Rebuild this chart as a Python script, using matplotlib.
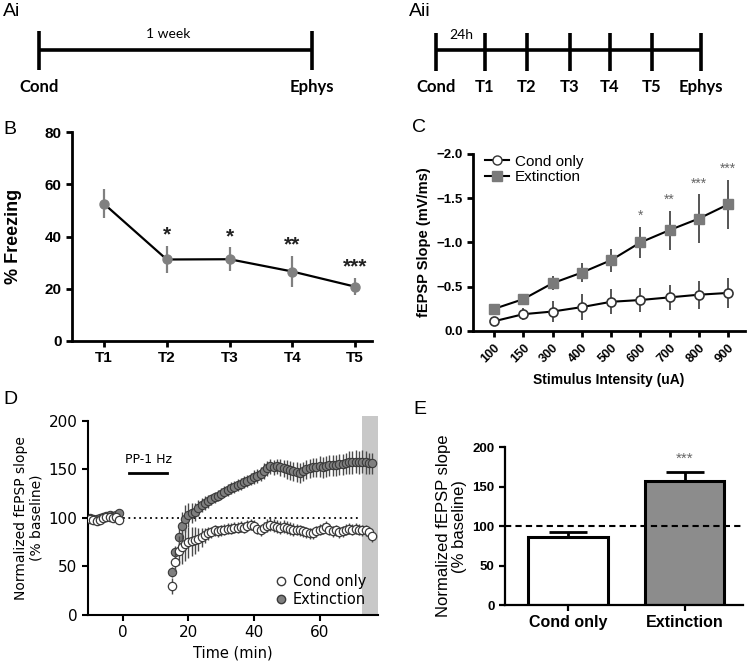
import numpy as np
import matplotlib.pyplot as plt
from matplotlib.lines import Line2D

plt.rcParams['font.family'] = ['Liberation Sans', 'DejaVu Sans']

# ---------------- data ----------------
# A: protocol timelines
ai_labels = ['Cond', 'Ephys']
ai_span = '1 week'
aii_labels = ['Cond', 'T1', 'T2', 'T3', 'T4', 'T5', 'Ephys']
aii_span = '24h'

# B: freezing across extinction sessions
b_sessions = ['T1', 'T2', 'T3', 'T4', 'T5']
b_freeze = [52.5, 31.2, 31.3, 26.6, 20.8]
b_sem = [5.5, 5.3, 4.6, 6.0, 3.3]
b_stars = ['', '*', '*', '**', '***']

# C: input-output curves
c_intensity = ['100', '150', '300', '400', '500', '600', '700', '800', '900']
c_cond = [-0.11, -0.19, -0.22, -0.27, -0.33, -0.35, -0.38, -0.41, -0.43]
c_cond_sem = [0.05, 0.07, 0.12, 0.15, 0.14, 0.14, 0.14, 0.16, 0.17]
c_ext = [-0.25, -0.36, -0.54, -0.66, -0.80, -1.00, -1.14, -1.27, -1.43]
c_ext_sem = [0.02, 0.03, 0.08, 0.11, 0.13, 0.18, 0.22, 0.28, 0.28]
c_stars = ['', '', '', '', '', '*', '**', '***', '***']

# D: time course (baseline -10..-1 min, then 15..76 min)
d_time = list(range(-10, 0)) + list(range(15, 77))
d_cond = [99, 98, 97, 98, 100, 101, 101, 100, 101, 98,
          30, 55, 66, 70, 73, 75, 76, 77, 78, 80,
          82, 84, 85, 87, 86, 87, 88, 89, 89, 90,
          90, 91, 90, 92, 93, 92, 89, 87, 90, 92,
          93, 92, 91, 90, 91, 90, 89, 88, 88, 87,
          86, 85, 84, 84, 86, 88, 89, 91, 88, 86,
          87, 85, 86, 88, 89, 88, 89, 88, 87, 87,
          85, 81]
d_cond_sem = [2, 2, 2, 2, 2, 2, 2, 2, 2, 2,
              8, 10, 15, 17, 17, 16, 15, 14, 12, 10,
              8, 7, 6, 6, 6, 6, 6, 6, 6, 6,
              6, 6, 6, 6, 6, 6, 6, 6, 6, 7,
              7, 7, 7, 7, 7, 7, 7, 7, 6, 6,
              6, 6, 6, 6, 6, 6, 6, 6, 6, 6,
              6, 6, 6, 6, 6, 6, 6, 6, 6, 6,
              6, 6]
d_ext = [100, 99, 99, 100, 101, 102, 103, 102, 103, 105,
         44, 65, 80, 92, 99, 103, 105, 106, 110, 113,
         115, 117, 119, 121, 123, 125, 127, 129, 131, 132,
         134, 135, 137, 138, 140, 142, 143, 145, 148, 151,
         153, 152, 153, 152, 151, 150, 149, 148, 147, 146,
         148, 150, 151, 152, 152, 153, 152, 153, 154, 154,
         154, 155, 155, 156, 157, 157, 158, 157, 158, 157,
         156, 156]
d_ext_sem = [2, 2, 2, 2, 2, 2, 2, 2, 2, 2,
             5, 6, 10, 14, 14, 12, 10, 9, 8, 7,
             7, 7, 6, 6, 6, 6, 6, 6, 6, 6,
             6, 6, 6, 6, 6, 7, 7, 7, 8, 8,
             8, 8, 8, 9, 9, 10, 10, 10, 10, 10,
             10, 10, 10, 10, 10, 11, 11, 11, 11, 11,
             11, 11, 11, 11, 12, 12, 12, 12, 12, 12,
             11, 11]
d_stim = (2, 13.4)
d_window = (73, 77.8)

# E: potentiation in the last minutes
e_groups = ['Cond only', 'Extinction']
e_vals = [86, 157.5]
e_sem = [6.3, 11.5]

GRAY = '#808080'
W, H = 747, 670
fig = plt.figure(figsize=(W / 100, H / 100), dpi=100)


def px_axes(l, t, r, b):
    return fig.add_axes([l / W, 1 - b / H, (r - l) / W, (b - t) / H])


def style(ax, lw):
    for s in ['top', 'right']:
        ax.spines[s].set_visible(False)
    for s in ['left', 'bottom']:
        ax.spines[s].set_linewidth(lw)
    ax.tick_params(direction='out', length=4, width=lw)


# overlay in pixel coords: timelines + panel letters
ov = fig.add_axes([0, 0, 1, 1])
ov.set_xlim(0, W)
ov.set_ylim(H, 0)
ov.axis('off')

ai_x = [39, 312]
ov.plot(ai_x, [50, 50], color='black', lw=2.6, solid_capstyle='butt')
for x, lab in zip(ai_x, ai_labels):
    ov.plot([x, x], [31, 70], color='black', lw=2.6, solid_capstyle='butt')
    ov.text(x, 87, lab, ha='center', va='center', fontsize=12,
            fontweight='bold', family='Lato')
ov.text(168, 34, ai_span, ha='center', va='center', fontsize=10, family='Lato')

aii_x = [436, 485, 527, 570, 610, 652, 701]
ov.plot([aii_x[0], aii_x[-1]], [50, 50], color='black', lw=2.6,
        solid_capstyle='butt')
for x, lab in zip(aii_x, aii_labels):
    ov.plot([x, x], [33, 71], color='black', lw=2.6, solid_capstyle='butt')
    ov.text(x, 87, lab, ha='center', va='center', fontsize=12,
            fontweight='bold', family='Lato')
ov.text(461, 35, aii_span, ha='center', va='center', fontsize=10, family='Lato')

for lab, x, y in [('Ai', 3, 3), ('Aii', 409, 3), ('B', 3, 121),
                  ('C', 412, 119), ('D', 3, 391), ('E', 413, 401)]:
    ov.text(x, y, lab, ha='left', va='top', fontsize=14)

# ---------------- B ----------------
axb = px_axes(72, 132, 372, 341)
xb = np.arange(len(b_sessions))
axb.errorbar(xb, b_freeze, yerr=b_sem, color='black', lw=1.6, marker='o',
             ms=6.5, mfc=GRAY, mec=GRAY, ecolor=GRAY, elinewidth=1.6, capsize=0)
for x, y, e, s in zip(xb, b_freeze, b_sem, b_stars):
    if s:
        axb.text(x, y + e + 0.5, s, ha='center', va='bottom', fontsize=15,
                 fontweight='bold', color='#222222')
axb.set_xlim(-0.51, 4.27)
axb.set_ylim(0, 80)
axb.set_yticks([0, 20, 40, 60, 80])
axb.set_xticks(xb)
axb.set_xticklabels(b_sessions)
style(axb, 2)
for lab in axb.get_xticklabels() + axb.get_yticklabels():
    lab.set_fontweight('bold')
    lab.set_fontsize(11)
axb.set_ylabel('% Freezing', fontsize=13, fontweight='bold', labelpad=16)

# ---------------- C ----------------
axc = px_axes(473, 154, 745, 331)
xc = np.arange(len(c_intensity))
axc.errorbar(xc, c_cond, yerr=c_cond_sem, color='black', lw=1.5, marker='o',
             ms=6.5, mfc='white', mec='#333333', mew=1.2, ecolor='#555555',
             elinewidth=1.4, capsize=0, zorder=3)
axc.errorbar(xc, c_ext, yerr=c_ext_sem, color='black', lw=1.5, marker='s',
             ms=6.5, mfc='#7a7a7a', mec='#7a7a7a', ecolor='#555555',
             elinewidth=1.4, capsize=0, zorder=3)
for x, y, e, s in zip(xc, c_ext, c_ext_sem, c_stars):
    if s:
        axc.text(x, y - e - 0.04, s, ha='center', va='bottom', fontsize=10,
                 color='#666666')
axc.set_xlim(-0.72, 8.58)
axc.set_ylim(0, -2.0)
axc.set_yticks([0, -0.5, -1.0, -1.5, -2.0])
axc.set_xticks(xc)
axc.set_xticklabels(c_intensity, rotation=45, ha='right', rotation_mode='anchor')
style(axc, 2)
for lab in axc.get_yticklabels():
    lab.set_fontweight('bold')
    lab.set_fontsize(9.5)
for lab in axc.get_xticklabels():
    lab.set_fontweight('bold')
    lab.set_fontsize(9)
axc.set_ylabel('fEPSP Slope (mV/ms)', fontsize=10.5, fontweight='bold')
axc.set_xlabel('Stimulus Intensity (uA)', fontsize=10, fontweight='bold',
               labelpad=6)
hc = [Line2D([], [], color='black', lw=1.5, marker='o', ms=6.5, mfc='white',
             mec='#333333'),
      Line2D([], [], color='black', lw=1.5, marker='s', ms=6.5, mfc='#7a7a7a',
             mec='#7a7a7a')]
axc.legend(hc, ['Cond only', 'Extinction'], loc='upper left', frameon=False,
           fontsize=11, handlelength=1.6, handletextpad=0.4, labelspacing=0.1,
           borderaxespad=0, bbox_to_anchor=(0.02, 1.03))

# ---------------- D ----------------
dfont = 'DejaVu Sans'
axd = px_axes(88, 420.7, 378, 615)
band = axd.axvspan(*d_window, ymin=0, ymax=1.025, color='#c8c8c8', lw=0,
                   zorder=0)
band.set_clip_on(False)
axd.plot([0, d_window[0] - 1], [100, 100], color='black', lw=1.3,
         ls=(0, (1, 2)), zorder=1)
axd.plot(list(d_stim), [146, 146], color='black', lw=2)
axd.text(np.mean(d_stim), 153, 'PP-1 Hz', ha='center', va='bottom',
         fontsize=9, family=dfont)
axd.errorbar(d_time, d_ext, yerr=d_ext_sem, fmt='o', ms=6, mfc='#7f7f7f',
             mec='#3a3a3a', mew=0.8, ecolor='#4a4a4a', elinewidth=1,
             capsize=0, zorder=2)
axd.errorbar(d_time, d_cond, yerr=d_cond_sem, fmt='o', ms=6, mfc='white',
             mec='#3a3a3a', mew=0.9, ecolor='#4a4a4a', elinewidth=1,
             capsize=0, zorder=3)
axd.set_xlim(-10.6, 77.8)
axd.set_ylim(0, 200)
axd.set_xticks([0, 20, 40, 60])
axd.set_yticks([0, 50, 100, 150, 200])
style(axd, 1.5)
for lab in axd.get_xticklabels() + axd.get_yticklabels():
    lab.set_family(dfont)
    lab.set_fontsize(11)
axd.set_xlabel('Time (min)', fontsize=10.5, family=dfont)
axd.set_ylabel('Normalized fEPSP slope\n(% baseline)', fontsize=10,
               family=dfont, linespacing=1.1)
hd = [Line2D([], [], ls='none', marker='o', ms=6, mfc='white', mec='#3a3a3a'),
      Line2D([], [], ls='none', marker='o', ms=6, mfc='#7f7f7f', mec='#3a3a3a')]
axd.legend(hd, ['Cond only', 'Extinction'], loc='lower right', frameon=False,
           prop={'family': dfont, 'size': 10.5}, handlelength=0.8,
           handletextpad=0.4, labelspacing=0.2, borderaxespad=0,
           bbox_to_anchor=(0.98, 0.01))

# ---------------- E ----------------
axe = px_axes(505, 447.3, 743, 605)
xe = np.arange(len(e_groups))
axe.bar(xe, e_vals, width=0.68, color=['white', '#8c8c8c'], edgecolor='black',
        lw=2.2, zorder=2)
axe.errorbar(xe, e_vals, yerr=[[0, 0], e_sem], fmt='none', ecolor='black',
             elinewidth=2, capsize=14, capthick=2, zorder=1)
axe.axhline(100, color='black', lw=1.5, ls=(0, (3, 2)), zorder=3)
axe.text(xe[1], e_vals[1] + e_sem[1] + 8, '***', ha='center', va='bottom',
         fontsize=11, color='#666666')
axe.set_xlim(-0.54, 1.5)
axe.set_ylim(0, 200)
axe.set_yticks([0, 50, 100, 150, 200])
axe.set_xticks(xe)
axe.set_xticklabels(e_groups)
style(axe, 1.6)
for lab in axe.get_yticklabels():
    lab.set_fontweight('bold')
    lab.set_fontsize(9.5)
for lab in axe.get_xticklabels():
    lab.set_fontweight('bold')
    lab.set_fontsize(11.5)
axe.set_ylabel('Normalized fEPSP slope\n(% baseline)', fontsize=12,
               linespacing=1.1)

fig.savefig('out.png', dpi=100)
